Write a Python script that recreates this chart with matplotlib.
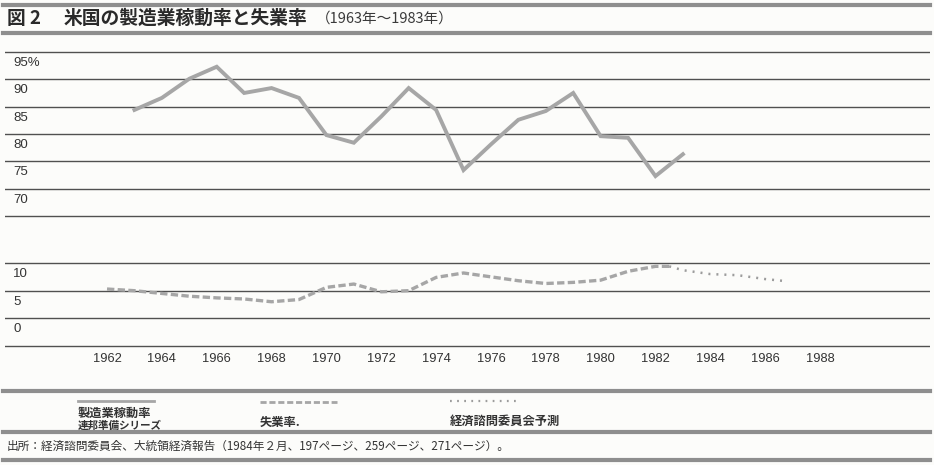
import matplotlib
matplotlib.use("Agg")
import matplotlib.pyplot as plt
from matplotlib.lines import Line2D
from matplotlib import font_manager

# データ
cap_years = list(range(1963, 1984))
cap_rate = [84.4, 86.6, 90.1, 92.3, 87.5, 88.4, 86.6, 79.8, 78.4, 83.2,
            88.4, 84.4, 73.4, 78.1, 82.6, 84.2, 87.5, 79.6, 79.3, 72.3, 76.3]

unemp_years = [1962, 1963, 1964, 1965, 1966, 1967, 1968, 1969, 1970, 1971,
               1972, 1973, 1974, 1975, 1976, 1977, 1978, 1979, 1980, 1981,
               1982, 1982.5]
unemp_rate = [5.3, 5.0, 4.5, 4.0, 3.7, 3.5, 3.0, 3.4, 5.6, 6.2,
              4.8, 5.0, 7.4, 8.2, 7.5, 6.8, 6.3, 6.5, 6.9, 8.5,
              9.4, 9.4]

fc_years = [1982.5, 1983, 1984, 1985, 1986, 1986.8]
fc_rate = [9.4, 8.7, 8.0, 7.8, 7.1, 6.7]

upper_ticks = [95, 90, 85, 80, 75, 70, 65]
upper_labels = ["95%", "90", "85", "80", "75", "70", ""]
lower_ticks = [10, 5, 0, -5]
lower_labels = ["10", "5", "0", ""]
x_ticks = list(range(1962, 1989, 2))

title_fig = "図 2"
title_main = "米国の製造業稼動率と失業率"
title_sub = "（1963年～1983年）"
leg_cap = ["製造業稼動率", "連邦準備シリーズ"]
leg_unemp = "失業率."
leg_fc = "経済諮問委員会予測"
source = "出所：経済諮問委員会、大統領経済報告（1984年２月、197ページ、259ページ、271ページ）。"

# フォント選択
names = {f.name for f in font_manager.fontManager.ttflist}
narrow = next((n for n in ["Liberation Sans Narrow", "DejaVu Sans Condensed",
                           "Liberation Sans"] if n in names), "DejaVu Sans")
jp = "Noto Sans CJK JP"

W, H = 934, 465
bg = "#fcfcfa"
grid_c = "#505050"
text_c = "#333333"
line_c = "#a6a6a6"
rule_c = "#8e8e8e"

fig = plt.figure(figsize=(W / 100, H / 100), dpi=100, facecolor=bg)


def fy(py):
    return 1 - py / H


xlim = (1958.28, 1992.01)

# 上段：製造業稼動率
ax1 = fig.add_axes([5 / W, fy(230), 925 / W, 190 / H])
ax1.set_xlim(*xlim)
ax1.set_ylim(62.44, 97.19)
# 下段：失業率
ax2 = fig.add_axes([5 / W, fy(350), 925 / W, 110 / H])
ax2.set_xlim(*xlim)
ax2.set_ylim(-5.72, 14.16)

for ax, ticks, labels in [(ax1, upper_ticks, upper_labels),
                          (ax2, lower_ticks, lower_labels)]:
    ax.set_facecolor("none")
    for s in ax.spines.values():
        s.set_visible(False)
    ax.set_yticks([])
    for v, lab in zip(ticks, labels):
        ax.axhline(v, color=grid_c, lw=1.0, zorder=1)
        if lab:
            ax.annotate(lab, xy=(0, v), xycoords=("axes fraction", "data"),
                        xytext=(6, -3.5), textcoords="offset points",
                        va="top", ha="left", fontsize=9.5, family=narrow,
                        color=text_c)

ax1.set_xticks([])
ax2.set_xticks(x_ticks)
ax2.set_xticklabels([str(y) for y in x_ticks], fontsize=9.3, family=narrow,
                    color=text_c)
ax2.tick_params(axis="x", length=0, pad=2)

ax1.plot(cap_years, cap_rate, color=line_c, lw=2.8, solid_joinstyle="miter",
         zorder=3)
ax2.plot(unemp_years, unemp_rate, color=line_c, lw=2.4, dashes=(2.2, 1.0),
         zorder=3)
ax2.plot(fc_years, fc_rate, color="#9c9c9c", lw=1.8, dashes=(0.8, 2.4),
         zorder=3)

# 罫線
for py in [5, 33, 391, 432, 460]:
    fig.add_artist(Line2D([3 / W, 930 / W], [fy(py), fy(py)],
                          transform=fig.transFigure, color=rule_c, lw=3.0))

# タイトル
fig.text(7 / W, fy(18), title_fig, fontsize=13.5, fontweight="bold",
         family=jp, color="#2a2a2a", va="center", ha="left")
fig.text(64 / W, fy(18), title_main, fontsize=13.5, fontweight="bold",
         family=jp, color="#2a2a2a", va="center", ha="left")
fig.text(316 / W, fy(19), title_sub, fontsize=10.5, family=jp,
         color="#3a3a3a", va="center", ha="left")

# 凡例
fig.add_artist(Line2D([78 / W, 154 / W], [fy(401), fy(401)],
                      transform=fig.transFigure, color=line_c, lw=2.0))
fig.add_artist(Line2D([260 / W, 337 / W], [fy(402), fy(402)],
                      transform=fig.transFigure, color=line_c, lw=2.0,
                      dashes=(2.2, 1.0)))
fig.add_artist(Line2D([450 / W, 520 / W], [fy(401), fy(401)],
                      transform=fig.transFigure, color="#9c9c9c", lw=1.6,
                      dashes=(0.8, 2.4)))
fig.text(78 / W, fy(413), leg_cap[0], fontsize=8.8, family=jp,
         fontweight="bold", color=text_c, va="center")
fig.text(78 / W, fy(426), leg_cap[1], fontsize=7.6, family=jp,
         fontweight="bold", color=text_c, va="center")
fig.text(260 / W, fy(422), leg_unemp, fontsize=8.8, family=jp,
         fontweight="bold", color=text_c, va="center")
fig.text(450 / W, fy(421), leg_fc, fontsize=8.8, family=jp,
         fontweight="bold", color=text_c, va="center")

# 出所
fig.text(7 / W, fy(446), source, fontsize=8.4, family=jp, color=text_c,
         va="center", ha="left")

fig.savefig("out.png", dpi=100, facecolor=bg)
